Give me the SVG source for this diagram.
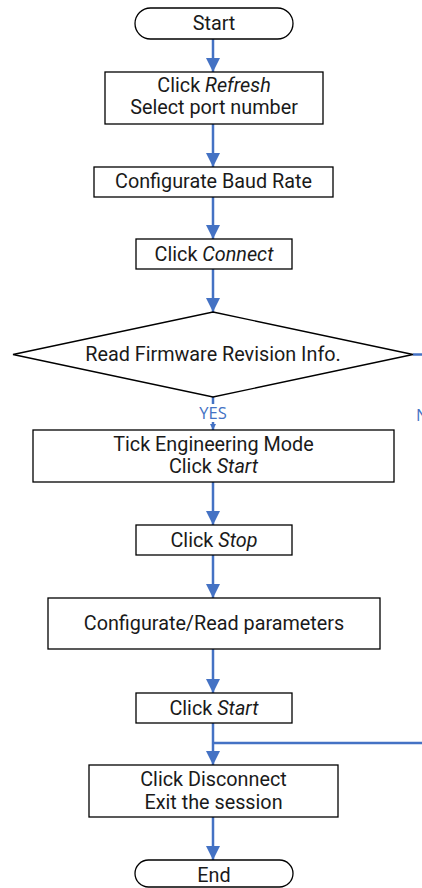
<svg xmlns="http://www.w3.org/2000/svg" width="422" height="888" viewBox="0 0 422 888">
<defs>
<style>
.bg{fill:#ffffff}
.box{fill:#ffffff;stroke:#000000;stroke-width:1.3}
.t{font-family:Roboto,"Liberation Sans",sans-serif;font-size:19.8px;fill:#1a1a1a;text-anchor:middle}
.i{font-style:italic}
.c{stroke:#4472c4;stroke-width:2.5;fill:none}
.lbl{font-family:"Open Sans","DejaVu Sans",sans-serif;font-size:16.5px;fill:#4472c4}
</style>
<marker id="ah" viewBox="0 0 10 10" refX="10" refY="5" markerWidth="5.6" markerHeight="5.6" orient="auto" markerUnits="strokeWidth">
<path d="M0,0 L10,5 L0,10 Z" fill="#4472c4"/>
</marker>
<marker id="ahs" viewBox="0 0 10 10" refX="10" refY="5" markerWidth="2.4" markerHeight="2.4" orient="auto" markerUnits="strokeWidth">
<path d="M0,0 L10,5 L0,10 Z" fill="#4472c4"/>
</marker>
</defs>
<rect class="bg" x="0" y="0" width="422" height="888"/>
<g id="connectors">
<line class="c" x1="213" y1="39" x2="213" y2="72" marker-end="url(#ah)"/>
<line class="c" x1="213" y1="124" x2="213" y2="167" marker-end="url(#ah)"/>
<line class="c" x1="213" y1="197" x2="213" y2="239" marker-end="url(#ah)"/>
<line class="c" x1="213" y1="269" x2="213" y2="312" marker-end="url(#ah)"/>
<line class="c" x1="213" y1="397" x2="213" y2="430" marker-end="url(#ahs)"/>
<line class="c" x1="413" y1="354.5" x2="422" y2="354.5"/>
<line class="c" x1="213" y1="482" x2="213" y2="525" marker-end="url(#ah)"/>
<line class="c" x1="213" y1="555" x2="213" y2="598" marker-end="url(#ah)"/>
<line class="c" x1="213" y1="649" x2="213" y2="693" marker-end="url(#ah)"/>
<line class="c" x1="213" y1="723" x2="213" y2="765" marker-end="url(#ah)"/>
<line class="c" x1="213" y1="743" x2="422" y2="743"/>
<line class="c" x1="213" y1="817" x2="213" y2="860" marker-end="url(#ah)"/>
<rect x="194" y="404" width="38" height="18" fill="#ffffff"/>
<text class="lbl" x="213" y="419" text-anchor="middle">YES</text>
<text class="lbl" x="416" y="421">NO</text>
</g>
<g id="start">
<rect class="box" x="135" y="8" width="158" height="31" rx="15.5"/>
<text class="t" x="214" y="29.5">Start</text>
</g>
<g id="refresh">
<rect class="box" x="105" y="72" width="218" height="52"/>
<text class="t" x="214" y="92">Click <tspan class="i">Refresh</tspan></text>
<text class="t" x="214" y="114">Select port number</text>
</g>
<g id="baud">
<rect class="box" x="94" y="167" width="239" height="30"/>
<text class="t" x="213.5" y="188">Configurate Baud Rate</text>
</g>
<g id="connect">
<rect class="box" x="136" y="239" width="156" height="30"/>
<text class="t" x="214" y="261">Click <tspan class="i">Connect</tspan></text>
</g>
<g id="firmware">
<polygon class="box" points="213,312 413,354.5 213,397 13,354.5"/>
<text class="t" x="213" y="361">Read Firmware Revision Info.</text>
</g>
<g id="engineering">
<rect class="box" x="33" y="430" width="361" height="52"/>
<text class="t" x="213.5" y="451">Tick Engineering Mode</text>
<text class="t" x="213.5" y="473">Click <tspan class="i">Start</tspan></text>
</g>
<g id="stop">
<rect class="box" x="136" y="525" width="156" height="30"/>
<text class="t" x="214" y="547">Click <tspan class="i">Stop</tspan></text>
</g>
<g id="params">
<rect class="box" x="48" y="598" width="332" height="51"/>
<text class="t" x="214" y="630">Configurate/Read parameters</text>
</g>
<g id="start2">
<rect class="box" x="136" y="693" width="156" height="30"/>
<text class="t" x="214" y="715">Click <tspan class="i">Start</tspan></text>
</g>
<g id="disconnect">
<rect class="box" x="89" y="765" width="249" height="52"/>
<text class="t" x="213.5" y="786">Click Disconnect</text>
<text class="t" x="213.5" y="809">Exit the session</text>
</g>
<g id="end">
<rect class="box" x="135" y="860" width="158" height="27" rx="13.5"/>
<text class="t" x="214" y="882">End</text>
</g>
</svg>
